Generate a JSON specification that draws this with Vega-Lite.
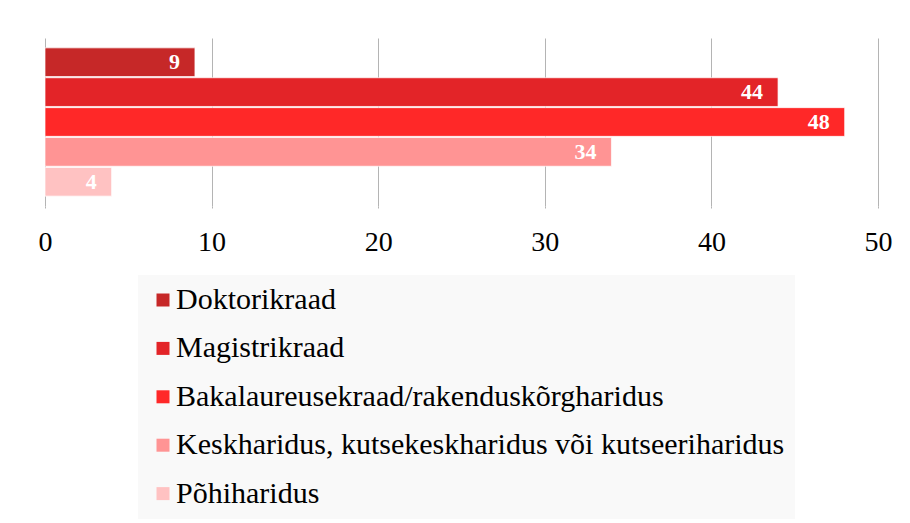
{
  "$schema": "https://vega.github.io/schema/vega-lite/v6.json",
  "autosize": "none",
  "width": 833,
  "height": 168,
  "padding": {"left": 45, "top": 38, "right": 32, "bottom": 317},
  "background": "#ffffff",
  "config": {"view": {"stroke": null}, "font": "Liberation Serif"},
  "data": {"values": [
    {"category": "Doktorikraad", "value": 9},
    {"category": "Magistrikraad", "value": 44},
    {"category": "Bakalaureusekraad/rakenduskõrgharidus", "value": 48},
    {"category": "Keskharidus, kutsekeskharidus või kutseeriharidus", "value": 34},
    {"category": "Põhiharidus", "value": 4}
  ]},
  "encoding": {
    "y": {"field": "category", "type": "nominal", "sort": null, "axis": null,
      "scale": {"paddingInner": 0.04, "paddingOuter": 0.33}},
    "x": {"field": "value", "type": "quantitative",
      "scale": {"domain": [0, 50], "nice": false},
      "axis": {"title": null, "values": [0, 10, 20, 30, 40, 50], "grid": true, "gridColor": "#b4b4b4", "domain": false,
        "ticks": true, "tickSize": 2, "tickColor": "#b4b4b4", "labelFontSize": 28, "labelColor": "#000000",
        "labelFont": "Liberation Serif", "labelPadding": 20, "labelFlush": false}}
  },
  "layer": [
    {"mark": {"type": "bar", "stroke": "#ffffff", "strokeWidth": 1, "strokeOpacity": 0.7},
      "encoding": {"color": {"field": "category", "type": "nominal", "sort": null,
        "scale": {"domain": ["Doktorikraad", "Magistrikraad", "Bakalaureusekraad/rakenduskõrgharidus", "Keskharidus, kutsekeskharidus või kutseeriharidus", "Põhiharidus"],
          "range": ["#c62828", "#e32428", "#ff2828", "#ff9494", "#ffc2c2"]},
        "legend": {"title": null, "orient": "none", "legendX": 93, "legendY": 237, "fillColor": "#f9f9f9",
          "padding": 10, "symbolType": "square", "symbolSize": 169, "symbolStrokeWidth": 0, "labelFontSize": 30,
          "labelFont": "Liberation Serif", "labelColor": "#000000", "rowPadding": 18.4, "labelOffset": -2, "labelLimit": 800}}}},
    {"mark": {"type": "text", "align": "right", "dx": -15, "color": "#ffffff", "fontSize": 22, "fontWeight": "bold", "font": "Liberation Serif", "baseline": "middle"},
      "encoding": {"text": {"field": "value", "type": "quantitative"}}}
  ]
}
